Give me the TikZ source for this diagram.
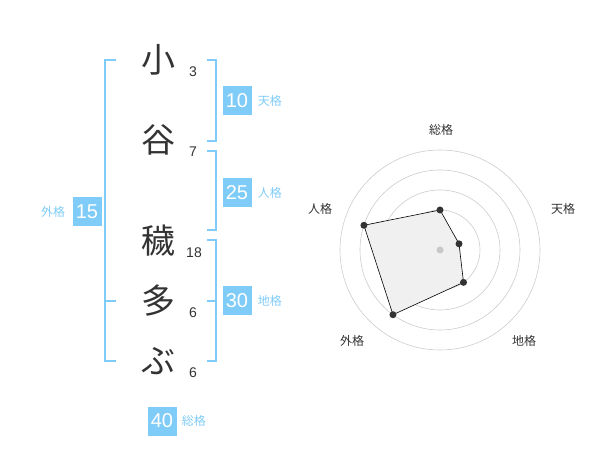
\documentclass[tikz,border=0pt]{standalone}
\usepackage{fontspec}
\setmainfont{Noto Sans CJK JP}
\newfontfamily\numfont{Liberation Sans}
\usetikzlibrary{positioning}
\definecolor{kakublue}{HTML}{80CCF8}
\definecolor{inkgray}{HTML}{333333}
\definecolor{ringgray}{HTML}{CCCCCC}
\definecolor{areagray}{HTML}{F0F0F0}
\definecolor{centergray}{HTML}{C8C8C8}

\begin{document}
\begin{tikzpicture}[x=1pt,y=-1pt,
  bigchar/.style={text=inkgray,font=\fontsize{34}{34}\selectfont,inner sep=0pt},
  strokes/.style={text=inkgray,font=\numfont\fontsize{14}{14}\selectfont,inner sep=0pt},
  kakubox/.style={fill=kakublue,text=white,minimum size=29pt,inner sep=0pt,font=\numfont\fontsize{20}{20}\selectfont},
  kakuname/.style={text=kakublue,font=\fontsize{12}{12}\selectfont,inner sep=0pt},
  brace/.style={draw=kakublue,line width=2pt},
  axisname/.style={text=inkgray,font=\fontsize{12}{12}\selectfont,inner sep=0pt},
  ring/.style={draw=ringgray,line width=0.6pt},
  dot/.style={circle,fill=inkgray,minimum size=7pt,inner sep=0pt}]
      \useasboundingbox (0,0) rectangle (600,470);
      % name characters and stroke counts
      \node[bigchar] (c1) at (158,60) {小};
      \node[bigchar] (c2) at (158,140) {谷};
      \node[bigchar] (c3) at (158,241) {穢};
      \node[bigchar] (c4) at (158,301) {多};
      \node[bigchar] (c5) at (158,361) {ぶ};
      \node[strokes] (n1) at (193,72) {3};
      \node[strokes] (n2) at (193,152) {7};
      \node[strokes] (n3) at (194,253) {18};
      \node[strokes] (n4) at (193,313) {6};
      \node[strokes] (n5) at (193,373) {6};
      % brackets
      \draw[brace] (116,60) -- (105,60) -- (105,361) -- (116,361);
      \draw[brace] (105,301) -- (116,301);
      \draw[brace] (207,60) -- (216,60) -- (216,141) -- (207,141);
      \draw[brace] (207,151) -- (216,151) -- (216,230) -- (207,230);
      \draw[brace] (207,240) -- (216,240) -- (216,361) -- (207,361);
      \draw[brace] (207,301) -- (216,301);
      % totals
      \node[kakubox] (ten) at (237,101) {10};
      \node[kakuname,right=6pt of ten] (lten) {天格};
      \node[kakubox] (jin) at (237,193) {25};
      \node[kakuname,right=6pt of jin] (ljin) {人格};
      \node[kakubox] (chi) at (237,301) {30};
      \node[kakuname,right=6pt of chi] (lchi) {地格};
      \node[kakubox] (gai) at (87,212) {15};
      \node[kakuname,left=7pt of gai] (lgai) {外格};
      \node[kakubox] (sou) at (162,421) {40};
      \node[kakuname,right=5pt of sou] (lsou) {総格};
      % radar
      \begin{scope}[shift={(440,250)},yscale=-1]
      \foreach \r in {20,40,60,80,100}
        \draw[ring] (0,0) circle (\r);
      \coordinate (psou) at (90:40);
      \coordinate (pten) at (18:20);
      \coordinate (pchi) at (-54:40);
      \coordinate (pgai) at (-126:80);
      \coordinate (pjin) at (162:80);
      \draw[fill=areagray,draw=black,line width=0.6pt] (psou) -- (pten) -- (pchi) -- (pgai) -- (pjin) -- cycle;
      \node[circle,fill=centergray,minimum size=7pt,inner sep=0pt] (mid) at (0,0) {};
      \node[dot] (dsou) at (psou) {};
      \node[dot] (dten) at (pten) {};
      \node[dot] (dchi) at (pchi) {};
      \node[dot] (dgai) at (pgai) {};
      \node[dot] (djin) at (pjin) {};
      \node[axisname] (asou) at (1,120) {総格};
      \node[axisname] (aten) at (123,41) {天格};
      \node[axisname] (achi) at (84,-91) {地格};
      \node[axisname] (agai) at (-88,-91) {外格};
      \node[axisname] (ajin) at (-120,41) {人格};
      \end{scope}
\end{tikzpicture}
\end{document}
